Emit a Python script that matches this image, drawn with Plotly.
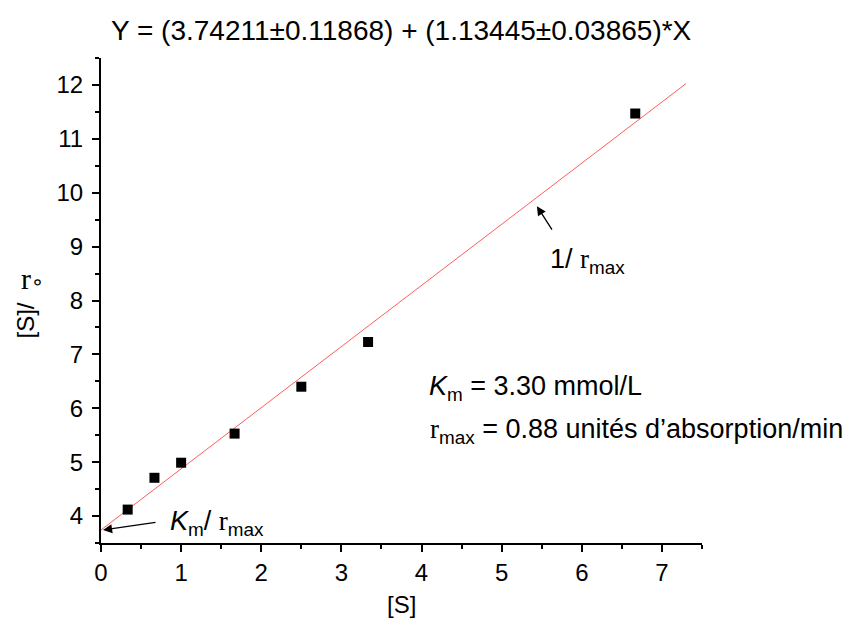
import plotly.graph_objects as go

S = [0.333, 0.667, 1.0, 1.667, 2.5, 3.333, 6.667]
S_over_r = [4.12, 4.71, 4.99, 5.53, 6.40, 7.23, 11.47]
intercept = 3.74211
slope = 1.13445
fit_x = [0.0, 7.3]
fit_y = [intercept + slope * v for v in fit_x]

FONT = "Liberation Sans, Arial, sans-serif"
SERIF = "Liberation Serif, Times New Roman, serif"
R = "<span style='font-family:Liberation Serif'>r</span>"

fig = go.Figure()
fig.add_trace(go.Scatter(x=fit_x, y=fit_y, mode="lines",
                         line=dict(color="#ff5c5c", width=1), showlegend=False))
fig.add_trace(go.Scatter(x=S, y=S_over_r, mode="markers",
                         marker=dict(symbol="square", size=10, color="black"),
                         showlegend=False))

axis_common = dict(showline=True, linecolor="black", linewidth=2, ticks="outside",
                   ticklen=7, tickwidth=2, tickcolor="black", showgrid=False,
                   zeroline=False, mirror=False,
                   tickfont=dict(family=FONT, size=24, color="black"))

fig.update_xaxes(range=[0, 7.5], tick0=0, dtick=1,
                 minor=dict(dtick=0.5, ticklen=4, tickwidth=2, tickcolor="black", ticks="outside"),
                 **axis_common)
fig.update_yaxes(range=[3.5, 12.5], tick0=4, dtick=1, ticklabelstandoff=4,
                 minor=dict(dtick=0.5, ticklen=4, tickwidth=2, tickcolor="black", ticks="outside"),
                 **axis_common)

ann = []
ann.append(dict(text="Y = (3.74211±0.11868) + (1.13445±0.03865)*X", xref="paper", yref="paper",
                x=0.5, y=1.0, yshift=28, xanchor="center", yanchor="middle", showarrow=False,
                font=dict(family=FONT, size=28, color="black")))
ann.append(dict(text="[S]", xref="paper", yref="paper", x=0.5, y=0, yshift=-61,
                xanchor="center", yanchor="middle", showarrow=False,
                font=dict(family=FONT, size=24, color="black")))
# y-axis label pieces
ann.append(dict(text="[S]/", xref="paper", yref="paper", x=0, y=0.5, xshift=-76, yshift=-20,
                textangle=-90, showarrow=False, xanchor="center", yanchor="middle",
                font=dict(family=FONT, size=24, color="black")))
ann.append(dict(text="r<span style='font-size:21px;font-family:DejaVu Sans'>∘</span>",
                xref="paper", yref="paper", x=0, y=0.5, xshift=-69, yshift=22,
                showarrow=False, xanchor="center", yanchor="middle",
                font=dict(family=SERIF, size=30, color="black")))
# 1/rmax arrow
ann.append(dict(x=5.44, y=9.75, xref="x", yref="y", ax=16, ay=25,
                showarrow=True, arrowhead=2, arrowsize=1.4, arrowwidth=1.3, arrowcolor="black",
                text=""))
ann.append(dict(text="1/ " + R + "<sub>max</sub>",
                xref="x", yref="y", x=5.58, y=8.73, xanchor="left", yanchor="middle",
                showarrow=False, font=dict(family=FONT, size=27, color="black")))
# Km/rmax arrow
ann.append(dict(x=0.025, y=3.74, xref="x", yref="y", ax=54, ay=-8,
                showarrow=True, arrowhead=2, arrowsize=1.4, arrowwidth=1.3, arrowcolor="black",
                text=""))
ann.append(dict(text="<i>K</i><sub>m</sub>/ " + R + "<sub>max</sub>",
                xref="x", yref="y", x=0.836, y=3.87, xanchor="left", yanchor="middle",
                showarrow=False, font=dict(family=FONT, size=27, color="black")))
# Parameter text
ann.append(dict(text="<i>K</i><sub>m</sub> = 3.30 mmol/L",
                xref="x", yref="y", x=4.07, y=6.38, xanchor="left", yanchor="middle",
                showarrow=False, font=dict(family=FONT, size=27, color="black")))
ann.append(dict(text=R + "<sub>max</sub> = 0.88 unités d’absorption/min",
                xref="x", yref="y", x=4.08, y=5.58, xanchor="left", yanchor="middle",
                showarrow=False, font=dict(family=FONT, size=27, color="black")))

fig.update_layout(width=855, height=618, margin=dict(l=93, r=161, t=50, b=83),
                  plot_bgcolor="white", paper_bgcolor="white", annotations=ann,
                  font=dict(family=FONT, color="black"))

fig.write_html("out.html")
